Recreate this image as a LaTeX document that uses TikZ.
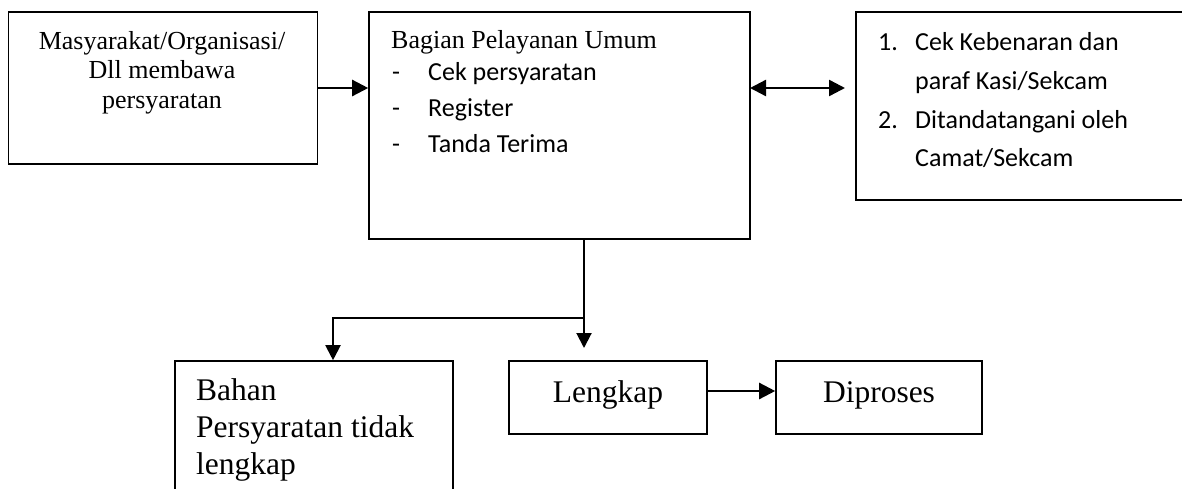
\documentclass[tikz,border=0pt]{standalone}
\usepackage{fontspec}
\setmainfont{Liberation Serif}
\newfontfamily\calfont{Carlito}
\usetikzlibrary{arrows.meta}
\tikzset{
  box/.style={draw=black, line width=1.6pt, inner sep=0pt},
  tms/.style={inner sep=0pt, font=\fontsize{26}{29.5}\selectfont},
  tmsbig/.style={inner sep=0pt, font=\fontsize{31.5}{37}\selectfont},
  cal/.style={inner sep=0pt, font=\calfont\fontsize{26}{30}\selectfont},
  arr/.style={line width=2.4pt, -{Triangle[length=16pt,width=16pt]}},
  arrboth/.style={line width=2.4pt, {Triangle[length=16pt,width=16pt]}-{Triangle[length=16pt,width=16pt]}},
  thinarr/.style={line width=2pt, -{Triangle[length=15pt,width=15pt]}},
  branch/.style={line width=2pt}
}
\begin{document}
\begin{tikzpicture}[x=1pt,y=-1pt]
\useasboundingbox (0,0) rectangle (1182,488);
\fill[white] (0,0) rectangle (1182,488);
% boxes
\node[box, minimum width=309pt, minimum height=152pt] (a) at (163,88) {};
\node[box, minimum width=381pt, minimum height=227pt] (b) at (559.5,125.5) {};
\node[box, minimum width=344pt, minimum height=188pt] (d) at (1028,106) {};
\node[box, minimum width=278pt, minimum height=160pt] (c) at (314,441) {};
\node[box, minimum width=198pt, minimum height=73pt] (l) at (608,397.5) {};
\node[box, minimum width=206pt, minimum height=73pt] (p) at (879,397.5) {};
% box A text
\node[tms, anchor=base] (a1) at (162,49) {Masyarakat/Organisasi/};
\node[tms, anchor=base] (a2) at (162,78.5) {Dll membawa};
\node[tms, anchor=base] (a3) at (162,108) {persyaratan};
% box B text
\node[tms, anchor=base west] (b0) at (391,48) {Bagian Pelayanan Umum};
\node[cal, anchor=base west] (b1d) at (392,80) {-};
\node[cal, anchor=base west] (b1) at (428,80) {Cek persyaratan};
\node[cal, anchor=base west] (b2d) at (392,116) {-};
\node[cal, anchor=base west] (b2) at (428,116) {Register};
\node[cal, anchor=base west] (b3d) at (392,152) {-};
\node[cal, anchor=base west] (b3) at (428,152) {Tanda Terima};
% box D text
\node[cal, anchor=base west] (d1n) at (878,50) {1.};
\node[cal, anchor=base west] (d1) at (915,50) {Cek Kebenaran dan};
\node[cal, anchor=base west] (d2) at (915,89) {paraf Kasi/Sekcam};
\node[cal, anchor=base west] (d3n) at (878,128) {2.};
\node[cal, anchor=base west] (d3) at (915,128) {Ditandatangani oleh};
\node[cal, anchor=base west] (d4) at (915,166) {Camat/Sekcam};
% box C text
\node[tmsbig, anchor=base west] (c1) at (196,400) {Bahan};
\node[tmsbig, anchor=base west] (c2) at (196,437) {Persyaratan tidak};
\node[tmsbig, anchor=base west] (c3) at (196,474) {lengkap};
% Lengkap / Diproses text
\node[tmsbig, anchor=base] (lt) at (608,402) {Lengkap};
\node[tmsbig, anchor=base] (pt) at (879,402) {Diproses};
% connectors
\coordinate (bdl) at (750,88);
\coordinate (bdr) at (845,88);
\coordinate (v0) at (584,239);
\coordinate (vtip) at (584,348);
\coordinate (br) at (584,318);
\coordinate (bl) at (333,318);
\draw[arr] (a.east) -- (a.east -| b.west);
\draw[arrboth] (bdl) -- (bdr);
\draw[thinarr] (v0) -- (vtip);
\draw[thinarr] (br) -- (bl) -- (bl |- c.north);
\draw[arr] ([yshift=6.5pt]l.east) -- ([yshift=6.5pt]p.west);
\end{tikzpicture}
\end{document}
